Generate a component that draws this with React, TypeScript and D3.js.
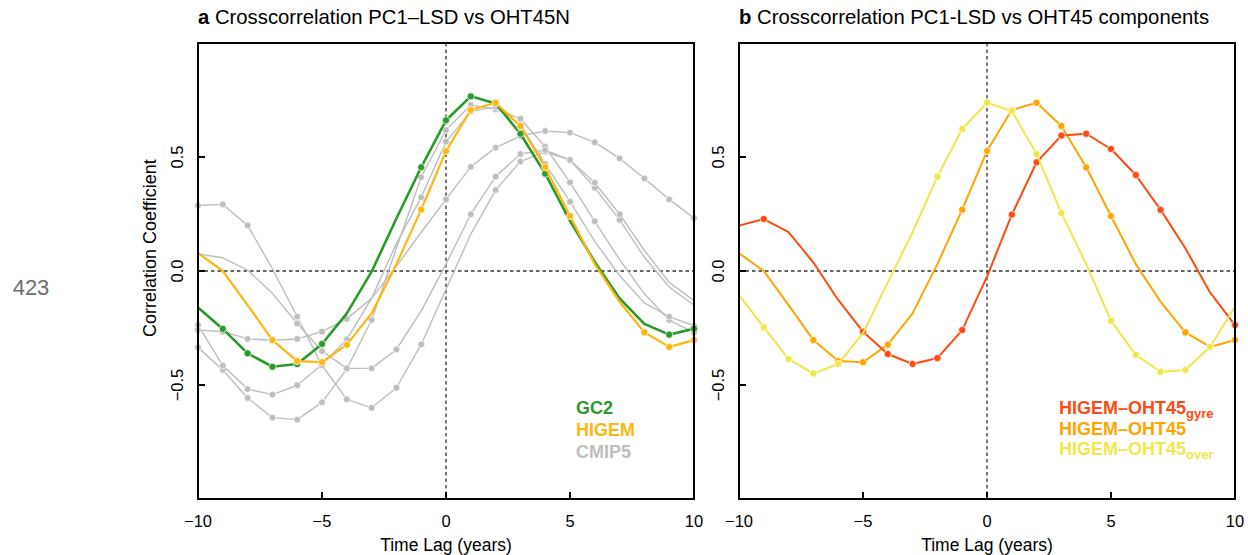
import React from "react";
import * as d3 from "d3";

// ---------- data ----------
const lags = [-10, -9, -8, -7, -6, -5, -4, -3, -2, -1, 0, 1, 2, 3, 4, 5, 6, 7, 8, 9, 10];

// Panel a
const gc2 = [-0.16, -0.254, -0.361, -0.42, -0.408, -0.32, -0.186, -0.003, 0.23, 0.455, 0.661, 0.766, 0.735, 0.602, 0.427, 0.22, 0.04, -0.12, -0.232, -0.279, -0.253];
const gc2Dots = [-9, -8, -7, -6, -5, -1, 0, 1, 2, 3, 4, 9, 10];
const higem = [0.078, 0.0, -0.15, -0.303, -0.395, -0.4, -0.323, -0.186, 0.03, 0.269, 0.526, 0.706, 0.738, 0.636, 0.455, 0.241, 0.03, -0.135, -0.269, -0.333, -0.303];
const higemDots = [-7, -6, -5, -4, -1, 0, 1, 2, 3, 4, 5, 8, 9, 10];
const cmip5a = [-0.335, -0.434, -0.557, -0.643, -0.652, -0.576, -0.43, -0.215, 0.1, 0.411, 0.618, 0.728, 0.709, 0.668, 0.545, 0.389, 0.218, 0.05, -0.1, -0.215, -0.27];
const cmip5b = [-0.237, -0.415, -0.518, -0.542, -0.501, -0.41, -0.3, -0.12, 0.12, 0.323, 0.567, 0.7, 0.72, 0.64, 0.47, 0.304, 0.13, -0.02, -0.14, -0.2, -0.24];
const cmip5c = [-0.259, -0.266, -0.298, -0.304, -0.298, -0.266, -0.21, -0.12, 0.02, 0.17, 0.314, 0.457, 0.541, 0.592, 0.614, 0.607, 0.564, 0.494, 0.406, 0.314, 0.232];
const cmip5d = [0.287, 0.292, 0.2, 0.01, -0.2, -0.414, -0.563, -0.6, -0.512, -0.322, -0.08, 0.162, 0.355, 0.48, 0.523, 0.487, 0.365, 0.224, 0.06, -0.07, -0.15];
const cmip5e = [0.075, 0.058, 0.004, -0.098, -0.23, -0.351, -0.427, -0.427, -0.344, -0.175, 0.03, 0.249, 0.414, 0.513, 0.53, 0.487, 0.387, 0.249, 0.09, -0.05, -0.13];
const cmip5Threshold = 0.19;

// Panel b
const oht45gyre = [0.199, 0.228, 0.17, 0.037, -0.127, -0.266, -0.364, -0.408, -0.382, -0.259, -0.025, 0.247, 0.477, 0.594, 0.602, 0.535, 0.421, 0.268, 0.1, -0.095, -0.237];
const oht45gyreDots = [-9, -5, -4, -3, -2, -1, 1, 2, 3, 4, 5, 6, 7, 10];
const oht45 = higem;
const oht45Dots = higemDots;
const oht45over = [-0.105, -0.247, -0.386, -0.45, -0.408, -0.273, -0.05, 0.17, 0.414, 0.623, 0.738, 0.702, 0.513, 0.254, 0.03, -0.218, -0.368, -0.442, -0.434, -0.332, -0.157];
const oht45overDots = [-9, -8, -7, -6, -2, -1, 0, 1, 2, 3, 5, 6, 7, 8, 9];

const xTicks = [-10, -5, 0, 5, 10];
const yTicks = [-0.5, 0, 0.5];

// ---------- style ----------
const FONT = "'Liberation Sans', Arial, Helvetica, sans-serif";
const GREEN = "#2a9a2a";
const GOLD = "#ffb60f";
const ORANGE = "#ffa500";
const RED = "#ff4a12";
const YELLOW = "#eee84a";
const GRAY = "#bebebe";

const top = 43, bottom = 499;

type Series = { values: number[]; dots: number[]; color: string; width: number; r: number };

function Panel({ left, right, title, letter, series, showYLabel }: {
  left: number; right: number; title: string; letter: string; series: Series[]; showYLabel: boolean;
}) {
  const x = d3.scaleLinear().domain([-10, 10]).range([left, right]);
  const y = d3.scaleLinear().domain([-1, 1]).range([bottom, top]);
  const line = d3.line<number>().x((_, i) => x(lags[i])).y((v) => y(v));
  const tick = 7;
  return (
    <g>
      <text x={left} y={24} fontFamily={FONT} fontSize={20.3} fill="#000">
        <tspan fontWeight="bold">{letter}</tspan>
        <tspan>{" " + title}</tspan>
      </text>
      {/* zero lines */}
      <line x1={left} x2={right} y1={y(0)} y2={y(0)} stroke="#333" strokeWidth={1.3} strokeDasharray="3.5,3" />
      <line x1={x(0)} x2={x(0)} y1={top} y2={bottom} stroke="#333" strokeWidth={1.3} strokeDasharray="3.5,3" />
      {series.map((s, k) => (
        <g key={k}>
          <path d={line(s.values) || ""} fill="none" stroke={s.color} strokeWidth={s.width} strokeLinejoin="round" />
          {lags.map((l, i) =>
            s.dots.includes(l) ? (
              <circle key={i} cx={x(l)} cy={y(s.values[i])} r={s.r} fill={s.color} stroke="#fff" strokeWidth={0.7} />
            ) : null
          )}
        </g>
      ))}
      {/* frame */}
      <rect x={left} y={top} width={right - left} height={bottom - top} fill="none" stroke="#000" strokeWidth={2} />
      {xTicks.map((t) => (
        <g key={"x" + t}>
          <line x1={x(t)} x2={x(t)} y1={bottom} y2={bottom - tick} stroke="#000" strokeWidth={2} />
          <text x={x(t)} y={527} textAnchor="middle" fontFamily={FONT} fontSize={16.5} fill="#000">
            {t < 0 ? "\u2212" + Math.abs(t) : String(t)}
          </text>
        </g>
      ))}
      {yTicks.map((t) => (
        <g key={"y" + t}>
          <line x1={left} x2={left + tick} y1={y(t)} y2={y(t)} stroke="#000" strokeWidth={2} />
          <text
            transform={`translate(${left - 15},${y(t)}) rotate(-90)`}
            textAnchor="middle"
            fontFamily={FONT}
            fontSize={16.5}
            fill="#000"
          >
            {t < 0 ? "\u2212" + Math.abs(t).toFixed(1) : t.toFixed(1)}
          </text>
        </g>
      ))}
      <text x={(left + right) / 2} y={551} textAnchor="middle" fontFamily={FONT} fontSize={17.5} fill="#000">
        Time Lag (years)
      </text>
      {showYLabel ? (
        <text
          transform={`translate(${left - 42},${y(0.1)}) rotate(-90)`}
          textAnchor="middle"
          fontFamily={FONT}
          fontSize={18}
          fill="#000"
        >
          Correlation Coefficient
        </text>
      ) : null}
    </g>
  );
}

export default function App() {
  const grayS = (v: number[]): Series => ({
    values: v,
    dots: lags.filter((_, i) => Math.abs(v[i]) > cmip5Threshold),
    color: GRAY,
    width: 1.4,
    r: 3.4,
  });
  const seriesA: Series[] = [
    grayS(cmip5a), grayS(cmip5b), grayS(cmip5c), grayS(cmip5d), grayS(cmip5e),
    { values: gc2, dots: gc2Dots, color: GREEN, width: 2.6, r: 3.6 },
    { values: higem, dots: higemDots, color: GOLD, width: 2.2, r: 3.6 },
  ];
  const seriesB: Series[] = [
    { values: oht45, dots: oht45Dots, color: ORANGE, width: 2.0, r: 3.6 },
    { values: oht45gyre, dots: oht45gyreDots, color: RED, width: 2.0, r: 3.6 },
    { values: oht45over, dots: oht45overDots, color: YELLOW, width: 2.0, r: 3.6 },
  ];
  return (
    <svg width={1248} height={555} style={{ position: "absolute", left: 0, top: 0, background: "#fff" }}>
      <rect x={0} y={0} width={1248} height={555} fill="#fff" />
      <text x={31} y={295} textAnchor="middle" fontFamily={FONT} fontSize={22} fill="#6f6f6f">423</text>
      <Panel left={198} right={694} letter="a" title={"Crosscorrelation PC1\u2013LSD vs OHT45N"} series={seriesA} showYLabel={true} />
      <Panel left={739} right={1235} letter="b" title="Crosscorrelation PC1-LSD vs OHT45 components" series={seriesB} showYLabel={false} />
      {/* legend a */}
      <g fontFamily={FONT} fontWeight="bold" fontSize={18}>
        <text x={576} y={414} fill={GREEN}>GC2</text>
        <text x={576} y={436} fill={GOLD}>HIGEM</text>
        <text x={576} y={458} fill={GRAY}>CMIP5</text>
      </g>
      {/* legend b */}
      <g fontFamily={FONT} fontWeight="bold" fontSize={18}>
        <text x={1059} y={414} fill={RED}>
          HIGEM{"\u2013"}OHT45<tspan fontSize={13} dy={4}>gyre</tspan>
        </text>
        <text x={1059} y={435} fill={ORANGE}>HIGEM{"\u2013"}OHT45</text>
        <text x={1059} y={455} fill={YELLOW}>
          HIGEM{"\u2013"}OHT45<tspan fontSize={13} dy={4}>over</tspan>
        </text>
      </g>
    </svg>
  );
}
